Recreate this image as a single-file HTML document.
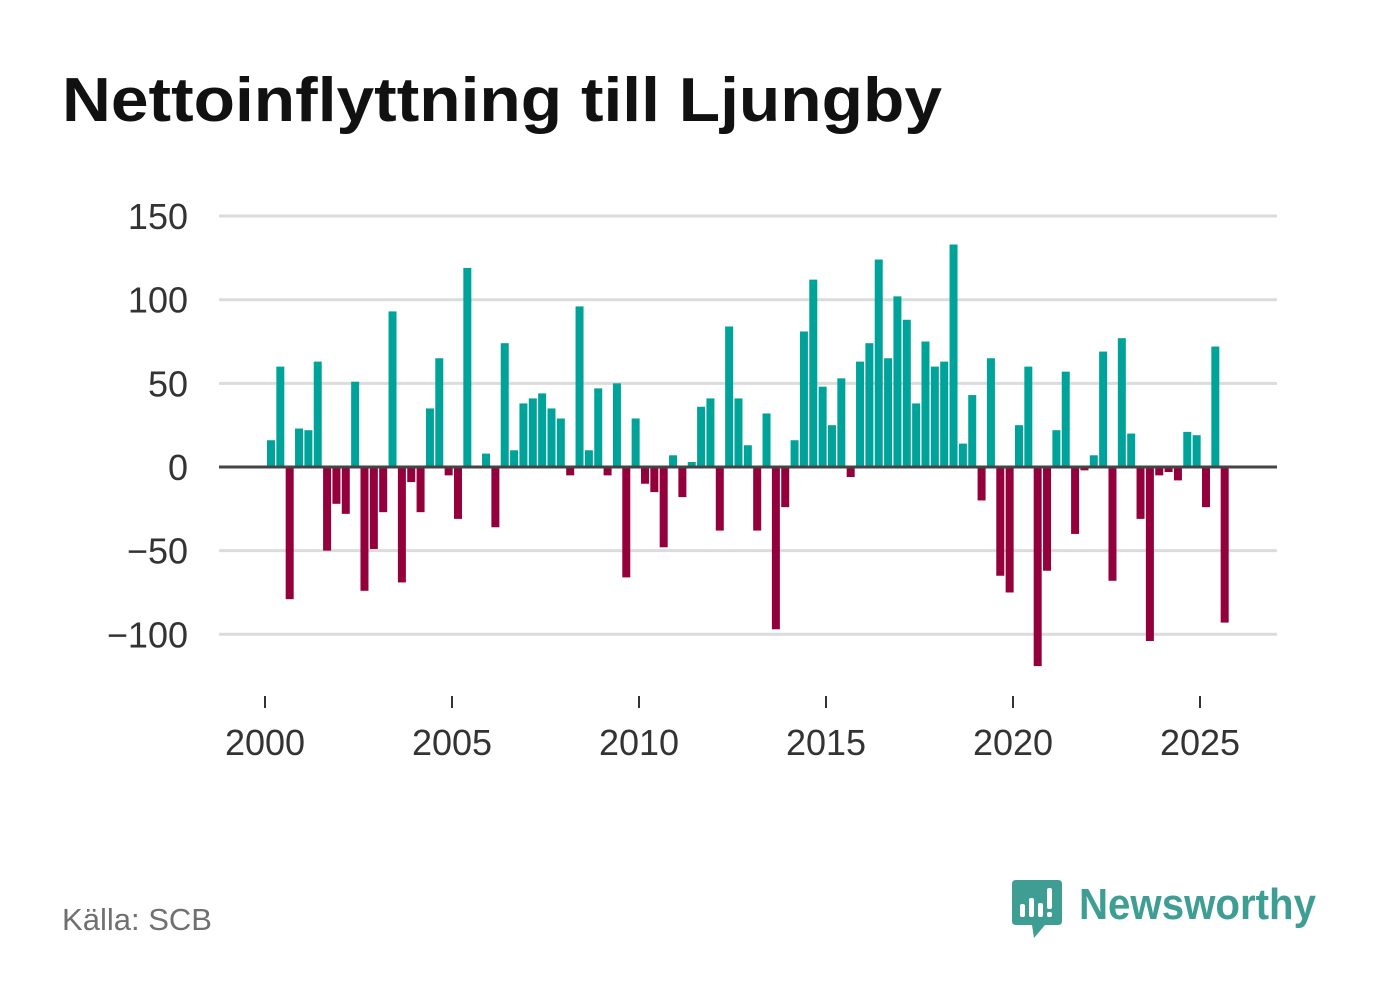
<!DOCTYPE html>
<html><head><meta charset="utf-8"><style>
html,body{margin:0;padding:0;background:#fff;}
svg{display:block;font-family:"Liberation Sans",sans-serif;}
</style></head><body>
<svg id="chart" width="1382" height="999" viewBox="0 0 1382 999" xmlns="http://www.w3.org/2000/svg">
<text x="62" y="121" font-size="62" font-weight="bold" fill="#111" textLength="880" lengthAdjust="spacingAndGlyphs">Nettoinflyttning till Ljungby</text>
<g id="grid"></g>
<g id="bars"></g>
<g id="xaxis"></g>
<text x="62" y="930" font-size="31" fill="#707070" textLength="150" lengthAdjust="spacingAndGlyphs">Källa: SCB</text>
<g>
<path d="M1016 880 H1058 Q1062 880 1062 884 V921 Q1062 925 1058 925 H1045 L1034 938 L1032 925 H1016 Q1012 925 1012 921 V884 Q1012 880 1016 880 Z" fill="#3f9e94"/>
<rect x="1020" y="904" width="5" height="13" rx="2" fill="#fff"/>
<rect x="1029" y="898" width="5" height="19" rx="2" fill="#fff"/>
<rect x="1038" y="903" width="5" height="14" rx="2" fill="#fff"/>
<rect x="1047" y="888" width="5" height="21" rx="2" fill="#fff"/>
<rect x="1047" y="912" width="5" height="5" rx="2" fill="#fff"/>
<text x="1079" y="919" font-size="44" font-weight="bold" fill="#3f9e94" textLength="237" lengthAdjust="spacingAndGlyphs">Newsworthy</text>
</g>
</svg>
<script>
const values = [16,60,-79,23,22,63,-50,-22,-28,51,-74,-49,-27,93,-69,-9,-27,35,65,-5,-31,119,
0,8,-36,74,10,38,41,44,35,29,-5,96,10,47,
-5,50,-66,29,-10,-15,-48,7,-18,3,36,41,-38,84,41,13,-38,32,-97,-24,16,81,112,48,25,53,-6,63,74,124,65,102,88,38,75,60,
63,133,14,43,-20,65,-65,-75,25,60,-119,-62,22,57,-40,-2,7,69,-68,77,20,-31,-104,-5,-3,-8,21,19,-24,72,-93];
const startYear = 2000;
const yTicks = [150,100,50,0,-50,-100];
const yTickLabels = ["150","100","50","0","\u221250","\u2212100"];
const xTicks = [2000,2005,2010,2015,2020,2025];

const NS = "http://www.w3.org/2000/svg";
function y(v){ return 467 - v*1.673; }
function x(t){ return 265 + (t-2000)*37.4; }
function mk(tag, attrs, parent){
  const e = document.createElementNS(NS, tag);
  for (const k in attrs) e.setAttribute(k, attrs[k]);
  parent.appendChild(e);
  return e;
}
const grid = document.getElementById('grid');
yTicks.forEach((v,i)=>{
  if (v !== 0) {
    const l = mk('line',{x1:219,x2:1277,y1:y(v),y2:y(v),stroke:'#dcdcdc','stroke-width':3},grid);
    
    
  }
  const t = mk('text',{x:188,y:y(v)+13,'font-size':36,'text-anchor':'end',fill:'#333'},grid);
  
  
  t.textContent = yTickLabels[i];
});
const bars = document.getElementById('bars');
values.forEach((v,i)=>{
  const cx = x(startYear + i/4 + 0.16);
  const top = v>=0 ? y(v) : y(0);
  const h = Math.abs(y(v)-y(0));
  const r = mk('rect',{x:cx-4,y:top,width:8,height:h,fill: v>=0?'#00a39a':'#94003c'},bars);
  
  
});
const zl = mk('line',{x1:219,x2:1277,y1:y(0),y2:y(0),stroke:'#444','stroke-width':3},grid.parentNode);


const xa = document.getElementById('xaxis');
xTicks.forEach(t=>{
  const l = mk('line',{x1:x(t),x2:x(t),y1:696,y2:708,stroke:'#333','stroke-width':2},xa);
  
  
  const tx = mk('text',{x:x(t),y:755,'font-size':36,'text-anchor':'middle',fill:'#333'},xa);
  
  
  tx.textContent = t;
});
</script>
</body></html>
